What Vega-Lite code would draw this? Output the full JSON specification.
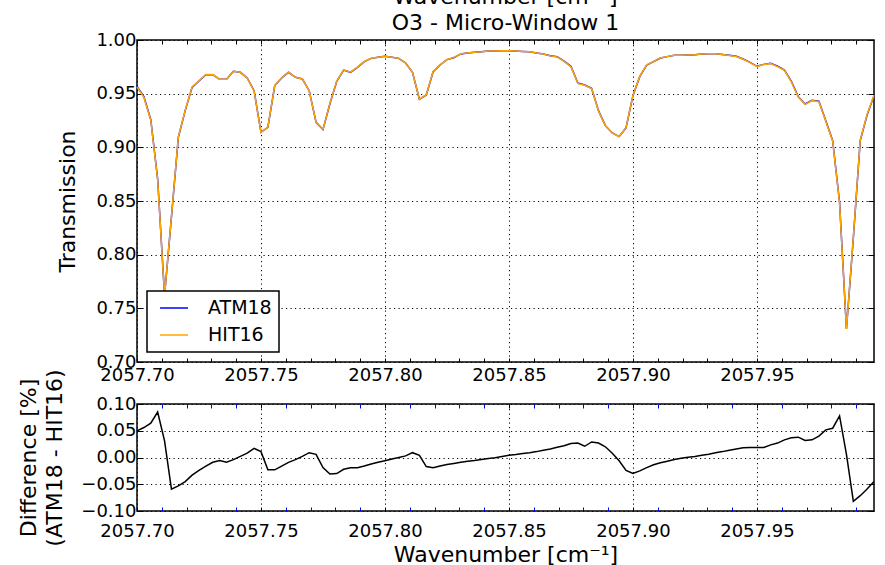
{
  "$schema": "https://vega.github.io/schema/vega-lite/v6.json",
  "padding": {"left": 17, "top": -15, "right": 5, "bottom": 0},
  "spacing": 42,
  "bounds": "flush",
  "resolve": {"scale": {"color": "independent"}, "legend": {"color": "independent"}},
  "data": {"values": [
    {"wavenumber": 2057.7, "ATM18": 0.9568, "HIT16": 0.9563, "diff": 0.0497},
    {"wavenumber": 2057.70278, "ATM18": 0.9472, "HIT16": 0.9467, "diff": 0.056},
    {"wavenumber": 2057.70556, "ATM18": 0.9258, "HIT16": 0.9252, "diff": 0.064},
    {"wavenumber": 2057.70833, "ATM18": 0.8705, "HIT16": 0.8698, "diff": 0.085},
    {"wavenumber": 2057.71111, "ATM18": 0.762, "HIT16": 0.7618, "diff": 0.031},
    {"wavenumber": 2057.71389, "ATM18": 0.835, "HIT16": 0.8355, "diff": -0.059},
    {"wavenumber": 2057.71667, "ATM18": 0.9093, "HIT16": 0.9098, "diff": -0.053},
    {"wavenumber": 2057.71944, "ATM18": 0.9342, "HIT16": 0.9346, "diff": -0.045},
    {"wavenumber": 2057.72222, "ATM18": 0.9559, "HIT16": 0.9562, "diff": -0.033},
    {"wavenumber": 2057.725, "ATM18": 0.9618, "HIT16": 0.962, "diff": -0.024},
    {"wavenumber": 2057.72778, "ATM18": 0.9677, "HIT16": 0.9679, "diff": -0.016},
    {"wavenumber": 2057.73056, "ATM18": 0.9677, "HIT16": 0.9678, "diff": -0.009},
    {"wavenumber": 2057.73333, "ATM18": 0.9634, "HIT16": 0.9635, "diff": -0.0056},
    {"wavenumber": 2057.73611, "ATM18": 0.9634, "HIT16": 0.9635, "diff": -0.009},
    {"wavenumber": 2057.73889, "ATM18": 0.9708, "HIT16": 0.9708, "diff": -0.004},
    {"wavenumber": 2057.74167, "ATM18": 0.9699, "HIT16": 0.9699, "diff": 0.002},
    {"wavenumber": 2057.74444, "ATM18": 0.9646, "HIT16": 0.9645, "diff": 0.008},
    {"wavenumber": 2057.74722, "ATM18": 0.9528, "HIT16": 0.9526, "diff": 0.017},
    {"wavenumber": 2057.75, "ATM18": 0.914, "HIT16": 0.9139, "diff": 0.011},
    {"wavenumber": 2057.75278, "ATM18": 0.9186, "HIT16": 0.9188, "diff": -0.023},
    {"wavenumber": 2057.75556, "ATM18": 0.9575, "HIT16": 0.9577, "diff": -0.023},
    {"wavenumber": 2057.75833, "ATM18": 0.9646, "HIT16": 0.9648, "diff": -0.016},
    {"wavenumber": 2057.76111, "ATM18": 0.9699, "HIT16": 0.97, "diff": -0.009},
    {"wavenumber": 2057.76389, "ATM18": 0.9652, "HIT16": 0.9652, "diff": -0.004},
    {"wavenumber": 2057.76667, "ATM18": 0.9637, "HIT16": 0.9637, "diff": 0.002},
    {"wavenumber": 2057.76944, "ATM18": 0.9528, "HIT16": 0.9527, "diff": 0.009},
    {"wavenumber": 2057.77222, "ATM18": 0.9233, "HIT16": 0.9232, "diff": 0.006},
    {"wavenumber": 2057.775, "ATM18": 0.9165, "HIT16": 0.9167, "diff": -0.019},
    {"wavenumber": 2057.77778, "ATM18": 0.9404, "HIT16": 0.9407, "diff": -0.031},
    {"wavenumber": 2057.78056, "ATM18": 0.9615, "HIT16": 0.9618, "diff": -0.03},
    {"wavenumber": 2057.78333, "ATM18": 0.972, "HIT16": 0.9722, "diff": -0.022},
    {"wavenumber": 2057.78611, "ATM18": 0.9699, "HIT16": 0.9701, "diff": -0.019},
    {"wavenumber": 2057.78889, "ATM18": 0.9745, "HIT16": 0.9747, "diff": -0.019},
    {"wavenumber": 2057.79167, "ATM18": 0.9798, "HIT16": 0.98, "diff": -0.016},
    {"wavenumber": 2057.79444, "ATM18": 0.9829, "HIT16": 0.983, "diff": -0.012},
    {"wavenumber": 2057.79722, "ATM18": 0.9839, "HIT16": 0.984, "diff": -0.009},
    {"wavenumber": 2057.8, "ATM18": 0.9848, "HIT16": 0.9849, "diff": -0.006},
    {"wavenumber": 2057.80278, "ATM18": 0.9839, "HIT16": 0.9839, "diff": -0.003},
    {"wavenumber": 2057.80556, "ATM18": 0.9829, "HIT16": 0.9829, "diff": 0.0},
    {"wavenumber": 2057.80833, "ATM18": 0.9786, "HIT16": 0.9786, "diff": 0.003},
    {"wavenumber": 2057.81111, "ATM18": 0.9699, "HIT16": 0.9698, "diff": 0.009},
    {"wavenumber": 2057.81389, "ATM18": 0.9447, "HIT16": 0.9447, "diff": 0.004},
    {"wavenumber": 2057.81667, "ATM18": 0.9488, "HIT16": 0.949, "diff": -0.017},
    {"wavenumber": 2057.81944, "ATM18": 0.9705, "HIT16": 0.9707, "diff": -0.019},
    {"wavenumber": 2057.82222, "ATM18": 0.9767, "HIT16": 0.9769, "diff": -0.016},
    {"wavenumber": 2057.825, "ATM18": 0.9817, "HIT16": 0.9818, "diff": -0.013},
    {"wavenumber": 2057.82778, "ATM18": 0.9835, "HIT16": 0.9836, "diff": -0.011},
    {"wavenumber": 2057.83056, "ATM18": 0.987, "HIT16": 0.9871, "diff": -0.009},
    {"wavenumber": 2057.83333, "ATM18": 0.9879, "HIT16": 0.988, "diff": -0.007},
    {"wavenumber": 2057.83611, "ATM18": 0.9885, "HIT16": 0.9886, "diff": -0.0056},
    {"wavenumber": 2057.83889, "ATM18": 0.9891, "HIT16": 0.9891, "diff": -0.0037},
    {"wavenumber": 2057.84167, "ATM18": 0.9898, "HIT16": 0.9898, "diff": -0.002},
    {"wavenumber": 2057.84444, "ATM18": 0.9898, "HIT16": 0.9898, "diff": -0.0006},
    {"wavenumber": 2057.84722, "ATM18": 0.9901, "HIT16": 0.9901, "diff": 0.002},
    {"wavenumber": 2057.85, "ATM18": 0.9901, "HIT16": 0.9901, "diff": 0.004},
    {"wavenumber": 2057.85278, "ATM18": 0.9898, "HIT16": 0.9897, "diff": 0.0056},
    {"wavenumber": 2057.85556, "ATM18": 0.9894, "HIT16": 0.9893, "diff": 0.0075},
    {"wavenumber": 2057.85833, "ATM18": 0.9891, "HIT16": 0.989, "diff": 0.009},
    {"wavenumber": 2057.86111, "ATM18": 0.9879, "HIT16": 0.9878, "diff": 0.011},
    {"wavenumber": 2057.86389, "ATM18": 0.987, "HIT16": 0.9869, "diff": 0.0137},
    {"wavenumber": 2057.86667, "ATM18": 0.9854, "HIT16": 0.9852, "diff": 0.016},
    {"wavenumber": 2057.86944, "ATM18": 0.9845, "HIT16": 0.9843, "diff": 0.019},
    {"wavenumber": 2057.87222, "ATM18": 0.9804, "HIT16": 0.9802, "diff": 0.022},
    {"wavenumber": 2057.875, "ATM18": 0.9755, "HIT16": 0.9752, "diff": 0.026},
    {"wavenumber": 2057.87778, "ATM18": 0.9599, "HIT16": 0.9596, "diff": 0.027},
    {"wavenumber": 2057.88056, "ATM18": 0.9581, "HIT16": 0.9579, "diff": 0.021},
    {"wavenumber": 2057.88333, "ATM18": 0.955, "HIT16": 0.9547, "diff": 0.029},
    {"wavenumber": 2057.88611, "ATM18": 0.9342, "HIT16": 0.9339, "diff": 0.027},
    {"wavenumber": 2057.88889, "ATM18": 0.9202, "HIT16": 0.92, "diff": 0.02},
    {"wavenumber": 2057.89167, "ATM18": 0.9134, "HIT16": 0.9133, "diff": 0.008},
    {"wavenumber": 2057.89444, "ATM18": 0.91, "HIT16": 0.9101, "diff": -0.006},
    {"wavenumber": 2057.89722, "ATM18": 0.9182, "HIT16": 0.9184, "diff": -0.024},
    {"wavenumber": 2057.9, "ATM18": 0.9481, "HIT16": 0.9484, "diff": -0.03},
    {"wavenumber": 2057.90278, "ATM18": 0.9661, "HIT16": 0.9663, "diff": -0.025},
    {"wavenumber": 2057.90556, "ATM18": 0.9767, "HIT16": 0.9769, "diff": -0.019},
    {"wavenumber": 2057.90833, "ATM18": 0.9798, "HIT16": 0.9799, "diff": -0.0137},
    {"wavenumber": 2057.91111, "ATM18": 0.9832, "HIT16": 0.9833, "diff": -0.01},
    {"wavenumber": 2057.91389, "ATM18": 0.9845, "HIT16": 0.9846, "diff": -0.007},
    {"wavenumber": 2057.91667, "ATM18": 0.9857, "HIT16": 0.9857, "diff": -0.0037},
    {"wavenumber": 2057.91944, "ATM18": 0.9857, "HIT16": 0.9857, "diff": -0.0012},
    {"wavenumber": 2057.92222, "ATM18": 0.986, "HIT16": 0.986, "diff": 0.0006},
    {"wavenumber": 2057.925, "ATM18": 0.9863, "HIT16": 0.9863, "diff": 0.002},
    {"wavenumber": 2057.92778, "ATM18": 0.987, "HIT16": 0.987, "diff": 0.004},
    {"wavenumber": 2057.93056, "ATM18": 0.9873, "HIT16": 0.9872, "diff": 0.006},
    {"wavenumber": 2057.93333, "ATM18": 0.9873, "HIT16": 0.9872, "diff": 0.009},
    {"wavenumber": 2057.93611, "ATM18": 0.9866, "HIT16": 0.9865, "diff": 0.011},
    {"wavenumber": 2057.93889, "ATM18": 0.9857, "HIT16": 0.9856, "diff": 0.0137},
    {"wavenumber": 2057.94167, "ATM18": 0.9848, "HIT16": 0.9846, "diff": 0.016},
    {"wavenumber": 2057.94444, "ATM18": 0.9823, "HIT16": 0.9821, "diff": 0.018},
    {"wavenumber": 2057.94722, "ATM18": 0.9792, "HIT16": 0.979, "diff": 0.0186},
    {"wavenumber": 2057.95, "ATM18": 0.9755, "HIT16": 0.9753, "diff": 0.0186},
    {"wavenumber": 2057.95278, "ATM18": 0.9773, "HIT16": 0.9771, "diff": 0.0186},
    {"wavenumber": 2057.95556, "ATM18": 0.9783, "HIT16": 0.9781, "diff": 0.0236},
    {"wavenumber": 2057.95833, "ATM18": 0.9755, "HIT16": 0.9752, "diff": 0.027},
    {"wavenumber": 2057.96111, "ATM18": 0.972, "HIT16": 0.9717, "diff": 0.033},
    {"wavenumber": 2057.96389, "ATM18": 0.9615, "HIT16": 0.9611, "diff": 0.037},
    {"wavenumber": 2057.96667, "ATM18": 0.9472, "HIT16": 0.9468, "diff": 0.038},
    {"wavenumber": 2057.96944, "ATM18": 0.9404, "HIT16": 0.9401, "diff": 0.032},
    {"wavenumber": 2057.97222, "ATM18": 0.9438, "HIT16": 0.9435, "diff": 0.033},
    {"wavenumber": 2057.975, "ATM18": 0.9429, "HIT16": 0.9425, "diff": 0.04},
    {"wavenumber": 2057.97778, "ATM18": 0.9248, "HIT16": 0.9243, "diff": 0.0516},
    {"wavenumber": 2057.98056, "ATM18": 0.9062, "HIT16": 0.9057, "diff": 0.0547},
    {"wavenumber": 2057.98333, "ATM18": 0.8488, "HIT16": 0.8481, "diff": 0.0776},
    {"wavenumber": 2057.98611, "ATM18": 0.7307, "HIT16": 0.7307, "diff": 0.006},
    {"wavenumber": 2057.98889, "ATM18": 0.8155, "HIT16": 0.8162, "diff": -0.082},
    {"wavenumber": 2057.99167, "ATM18": 0.9062, "HIT16": 0.9068, "diff": -0.0714},
    {"wavenumber": 2057.99444, "ATM18": 0.9301, "HIT16": 0.9306, "diff": -0.059},
    {"wavenumber": 2057.99722, "ATM18": 0.9481, "HIT16": 0.9485, "diff": -0.0447}
  ]},
  "vconcat": [
    {
      "width": 737,
      "height": 322,
      "title": {"text": ["Wavenumber [cm⁻¹]", "O3 - Micro-Window 1"], "frame": "group", "anchor": "middle", "lineHeight": 26, "offset": -4},
      "layer": [
        {
          "transform": [{"fold": ["ATM18", "HIT16"], "as": ["series", "value"]}],
          "mark": {"type": "line", "strokeWidth": 1.5},
          "encoding": {
            "x": {"field": "wavenumber", "type": "quantitative",
              "scale": {"domain": [2057.7, 2057.99722], "nice": false, "zero": false},
              "axis": {"orient": "bottom", "title": null,
                "values": [2057.70, 2057.71, 2057.72, 2057.73, 2057.74, 2057.75, 2057.76, 2057.77, 2057.78, 2057.79, 2057.80, 2057.81, 2057.82, 2057.83, 2057.84, 2057.85, 2057.86, 2057.87, 2057.88, 2057.89, 2057.90, 2057.91, 2057.92, 2057.93, 2057.94, 2057.95, 2057.96, 2057.97, 2057.98, 2057.99],
                "labelExpr": "abs(datum.value*20 - round(datum.value*20)) < 0.01 ? format(datum.value, '.2f') : ''",
                "grid": true,
                "gridOpacity": {"condition": {"test": "abs(datum.value*20 - round(datum.value*20)) < 0.01", "value": 1}, "value": 0},
                "tickSize": -4, "labelPadding": 8}},
            "y": {"field": "value", "type": "quantitative",
              "scale": {"domain": [0.7, 1.0], "nice": false, "zero": false},
              "axis": {"orient": "left", "title": "Transmission",
                "values": [0.7, 0.75, 0.8, 0.85, 0.9, 0.95, 1.0], "format": ".2f",
                "grid": true, "tickSize": -6, "labelPadding": 7, "titlePadding": 16}},
            "color": {"field": "series", "type": "nominal",
              "scale": {"domain": ["ATM18", "HIT16"], "range": ["#0000ff", "#ffa500"]},
              "legend": {"title": null, "orient": "bottom-left", "offset": 10}}
          }
        },
        {
          "mark": {"type": "line", "opacity": 0},
          "encoding": {
            "x": {"field": "wavenumber", "type": "quantitative",
              "axis": {"orient": "top", "title": null, "labels": false, "grid": false,
                "values": [2057.70, 2057.71, 2057.72, 2057.73, 2057.74, 2057.75, 2057.76, 2057.77, 2057.78, 2057.79, 2057.80, 2057.81, 2057.82, 2057.83, 2057.84, 2057.85, 2057.86, 2057.87, 2057.88, 2057.89, 2057.90, 2057.91, 2057.92, 2057.93, 2057.94, 2057.95, 2057.96, 2057.97, 2057.98, 2057.99],
                "tickSize": -4}},
            "y": {"field": "ATM18", "type": "quantitative",
              "axis": {"orient": "right", "title": null, "labels": false, "grid": false,
                "values": [0.7, 0.75, 0.8, 0.85, 0.9, 0.95, 1.0], "tickSize": -6}}
          }
        }
      ],
      "resolve": {"axis": {"x": "independent", "y": "independent"}}
    },
    {
      "width": 737,
      "height": 107,
      "layer": [
        {
          "mark": {"type": "line", "strokeWidth": 1.5, "color": "black"},
          "encoding": {
            "x": {"field": "wavenumber", "type": "quantitative",
              "scale": {"domain": [2057.7, 2057.99722], "nice": false, "zero": false},
              "axis": {"orient": "bottom", "title": "Wavenumber [cm⁻¹]",
                "values": [2057.70, 2057.71, 2057.72, 2057.73, 2057.74, 2057.75, 2057.76, 2057.77, 2057.78, 2057.79, 2057.80, 2057.81, 2057.82, 2057.83, 2057.84, 2057.85, 2057.86, 2057.87, 2057.88, 2057.89, 2057.90, 2057.91, 2057.92, 2057.93, 2057.94, 2057.95, 2057.96, 2057.97, 2057.98, 2057.99],
                "labelExpr": "abs(datum.value*20 - round(datum.value*20)) < 0.01 ? format(datum.value, '.2f') : ''",
                "grid": true,
                "gridOpacity": {"condition": {"test": "abs(datum.value*20 - round(datum.value*20)) < 0.01", "value": 1}, "value": 0},
                "tickColor": {"condition": {"test": "abs(datum.value*20 - round(datum.value*20)) < 0.01", "value": "black"}, "value": "#0000ff"},
                "tickSize": -4, "labelPadding": 15, "titlePadding": 4}},
            "y": {"field": "diff", "type": "quantitative",
              "scale": {"domain": [-0.1, 0.1], "nice": false, "zero": false},
              "axis": {"orient": "left", "title": ["Difference [%]", "(ATM18 - HIT16)"],
                "values": [-0.1, -0.05, 0.0, 0.05, 0.1], "format": ".2f",
                "grid": true, "tickSize": -6, "labelPadding": 7, "titlePadding": 14, "titleLineHeight": 26}}
          }
        },
        {
          "mark": {"type": "line", "opacity": 0},
          "encoding": {
            "x": {"field": "wavenumber", "type": "quantitative",
              "axis": {"orient": "top", "title": null, "labels": false, "grid": false,
                "values": [2057.70, 2057.71, 2057.72, 2057.73, 2057.74, 2057.75, 2057.76, 2057.77, 2057.78, 2057.79, 2057.80, 2057.81, 2057.82, 2057.83, 2057.84, 2057.85, 2057.86, 2057.87, 2057.88, 2057.89, 2057.90, 2057.91, 2057.92, 2057.93, 2057.94, 2057.95, 2057.96, 2057.97, 2057.98, 2057.99],
                "tickColor": {"condition": {"test": "abs(datum.value*20 - round(datum.value*20)) < 0.01", "value": "black"}, "value": "#0000ff"},
                "tickSize": -4}},
            "y": {"field": "diff", "type": "quantitative",
              "axis": {"orient": "right", "title": null, "labels": false, "grid": false,
                "values": [-0.1, -0.05, 0.0, 0.05, 0.1], "tickSize": -6}}
          }
        }
      ],
      "resolve": {"axis": {"x": "independent", "y": "independent"}}
    }
  ],
  "config": {
    "font": "DejaVu Sans",
    "view": {"stroke": "black", "strokeWidth": 1.5},
    "axis": {
      "domain": false,
      "labelFont": "DejaVu Sans", "labelFontSize": 18, "labelColor": "black",
      "titleFont": "DejaVu Sans", "titleFontSize": 22, "titleFontWeight": "normal", "titleColor": "black",
      "tickColor": "black", "tickWidth": 1,
      "gridColor": "black", "gridDash": [1.2, 3.3], "gridWidth": 1,
      "labelFlush": false, "labelOverlap": false, "labelBound": false
    },
    "legend": {
      "strokeColor": "black", "strokeWidth": 1.5, "fillColor": "white", "cornerRadius": 0,
      "padding": 7, "symbolType": "M-0.44,0H2.67", "symbolSize": 324, "symbolStrokeWidth": 1.5,
      "labelFont": "DejaVu Sans", "labelFontSize": 19, "labelColor": "black", "labelOffset": 34, "rowPadding": 7
    },
    "title": {"font": "DejaVu Sans", "fontSize": 22, "fontWeight": "normal", "color": "black"}
  }
}
